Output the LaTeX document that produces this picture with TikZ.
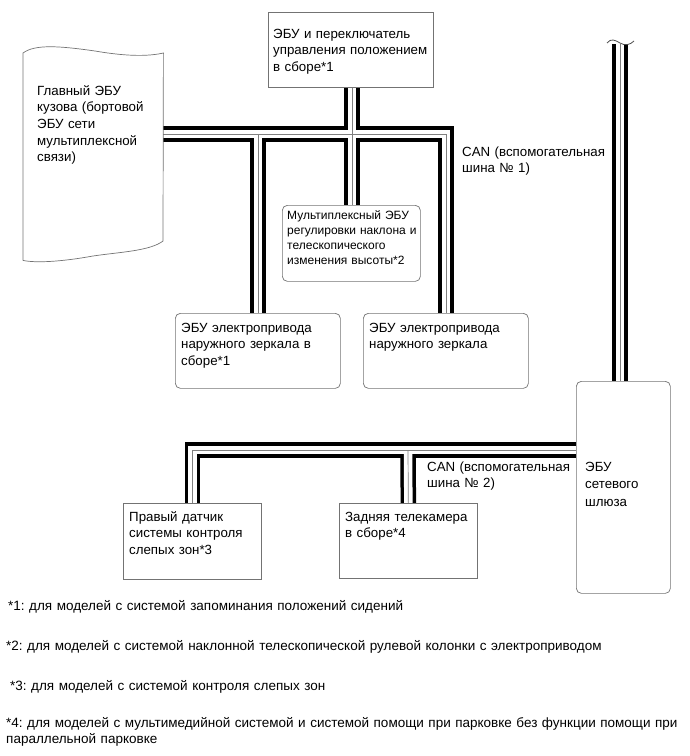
\documentclass[tikz,border=0pt]{standalone}
\usepackage{fontspec}
\setmainfont{Liberation Sans}
\usetikzlibrary{backgrounds}
\frenchspacing

\begin{document}
\begin{tikzpicture}[x=1pt,y=-1pt,
          ecu/.style={draw=black!55,line width=0.7pt,fill=white,anchor=north west,
                      inner sep=0pt},
          recu/.style={ecu,rounded corners=5pt},
          txt/.style={anchor=base west,inner sep=0pt,align=left,text width=200pt,
                      font=\fontsize{13.3pt}{16.5pt}\selectfont},
          foot/.style={anchor=base west,inner sep=0pt,align=left,text width=690pt,
                       font=\fontsize{13.5pt}{16pt}\selectfont},
          wire/.style={line width=15.5pt,black},
          gap/.style={line width=8.5pt,white},
          mid/.style={line width=0.7pt,black!50}]
        \useasboundingbox (0,0) rectangle (690,756);
        % control units
        \node[ecu,minimum width=165pt,minimum height=75pt] (posecu) at (268,12) {};
        \node[txt] (posecu-t) at ([xshift=5pt,yshift=-26pt]posecu.north west)
          {ЭБУ и переключатель\\управления положением\\в сборе*1};
        \node[anchor=north west,inner sep=0pt,minimum width=140pt,minimum height=207pt]
          (bodyecu) at (23,53) {};
        \draw[black!55,line width=0.7pt] (bodyecu.south west) -- (bodyecu.north west)
          .. controls (35,44) and (60,46) .. (95,51)
          .. controls (130,57) and (150,56) .. (bodyecu.north east)
          -- (163,241) .. controls (150,251) and (120,252) .. (93,256)
          .. controls (60,262) and (35,263) .. (bodyecu.south west);
        \node[txt,font=\fontsize{13.3pt}{16.7pt}\selectfont] (bodyecu-t)
          at ([xshift=14pt,yshift=-42pt]bodyecu.north west)
          {Главный ЭБУ\\кузова (бортовой\\ЭБУ сети\\мультиплексной\\связи)};
        \node[recu,minimum width=138pt,minimum height=76pt] (tiltecu) at (282,205) {};
        \node[txt,font=\fontsize{12pt}{15pt}\selectfont] (tiltecu-t)
          at ([xshift=5pt,yshift=-14pt]tiltecu.north west)
          {Мультиплексный ЭБУ\\регулировки наклона и\\телескопического\\изменения высоты*2};
        \node[recu,minimum width=165pt,minimum height=75pt] (mirl) at (175,313) {};
        \node[txt] (mirl-t) at ([xshift=6pt,yshift=-19pt]mirl.north west)
          {ЭБУ электропривода\\наружного зеркала в\\сборе*1};
        \node[recu,minimum width=165pt,minimum height=75pt] (mirr) at (363,313) {};
        \node[txt] (mirr-t) at ([xshift=6pt,yshift=-19pt]mirr.north west)
          {ЭБУ электропривода\\наружного зеркала};
        \node[recu,minimum width=94pt,minimum height=212pt] (gwecu) at (576,381) {};
        \node[txt,font=\fontsize{13.3pt}{17.5pt}\selectfont] (gwecu-t)
          at ([xshift=9pt,yshift=-90pt]gwecu.north west)
          {ЭБУ\\сетевого\\шлюза};
        \node[ecu,minimum width=138pt,minimum height=76pt] (bsm) at (123,503) {};
        \node[txt] (bsm-t) at ([xshift=6pt,yshift=-18pt]bsm.north west)
          {Правый датчик\\системы контроля\\слепых зон*3};
        \node[ecu,minimum width=138pt,minimum height=75pt] (cam) at (339,503) {};
        \node[txt] (cam-t) at ([xshift=6pt,yshift=-18pt]cam.north west)
          {Задняя телекамера\\в сборе*4};
        % bus labels
        \node[txt] (can1) at (462,156) {CAN (вспомогательная\\шина №~1)};
        \node[txt] (can2) at (427,471) {CAN (вспомогательная\\шина №~2)};
        % buses
        \coordinate (j1) at (352,134);
        \coordinate (j2) at (408,450);
        \coordinate (cut) at (620,44);
        \begin{scope}[on background layer]
          \foreach \s in {wire,gap,mid} {
            \draw[\s] (j1 |- posecu.south) -- (j1 |- tiltecu.north);
            \draw[\s] (bodyecu.east |- j1) -| (mirr.north);
            \draw[\s] (mirl.north |- j1) -- (mirl.north);
            \draw[\s] (cut) -- (cut |- gwecu.north);
            \draw[\s] (gwecu.west |- j2) -| (bsm.north);
            \draw[\s] (j2) -- (cam.north);
          }
        \end{scope}
        \draw[black!70,line width=0.8pt] (607,43) .. controls (611,38) and (615,40) .. (620,43)
          .. controls (625,46) and (630,45) .. (634,41);
        % footnotes
        \node[foot] (fn1) at (8,610) {*1: для моделей с системой запоминания положений сидений};
        \node[foot] (fn2) at (6,650) {*2: для моделей с системой наклонной телескопической рулевой колонки с электроприводом};
        \node[foot] (fn3) at (10,690) {*3: для моделей с системой контроля слепых зон};
        \node[foot] (fn4) at (6,727) {*4: для моделей с мультимедийной системой и системой помощи при парковке без функции помощи при\\параллельной парковке};
      \end{tikzpicture}
\end{document}
